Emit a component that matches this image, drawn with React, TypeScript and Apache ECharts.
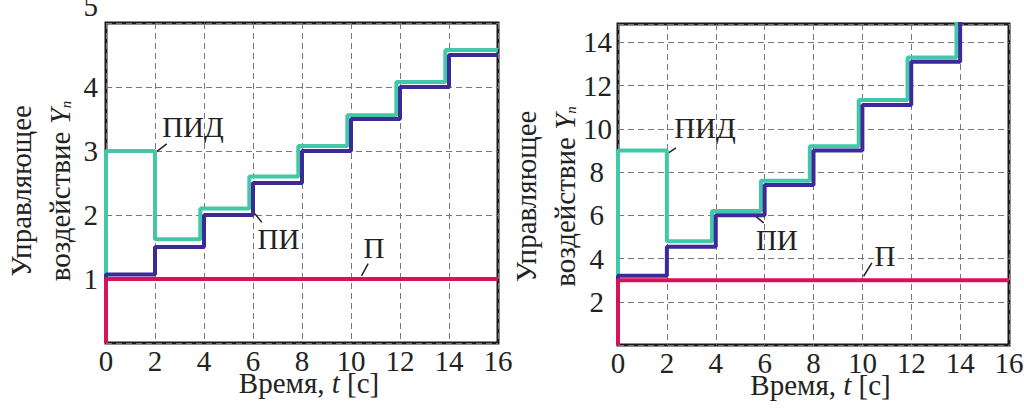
import React, { useEffect, useRef } from "react";
import * as echarts from "echarts";

// ---- axes ----
const X_MIN = 0;
const X_MAX = 16;
const X_INTERVAL = 2;
const LEFT_Y_MAX = 5;
const LEFT_Y_INTERVAL = 1;
const RIGHT_Y_MAX = 14.85;
const RIGHT_Y_INTERVAL = 2;

// ---- left chart data (step boundaries and levels) ----
const leftPTimes = [0, 16];
const leftPLevels = [1];
const leftPStart = 0;

const leftPITimes = [0, 2, 4, 6, 8, 10, 12, 14, 16];
const leftPILevels = [1.07, 1.5, 2, 2.5, 3, 3.5, 4, 4.5];
const leftPIStart = 1;

const leftPIDTimes = [0, 2, 3.85, 5.85, 7.85, 9.85, 11.85, 13.85, 16];
const leftPIDLevels = [3, 1.62, 2.1, 2.6, 3.08, 3.56, 4.08, 4.58];
const leftPIDStart = 1;

// ---- right chart data ----
const rightPTimes = [0, 16];
const rightPLevels = [3];
const rightPStart = 0;

const rightPITimes = [0, 2, 4, 6, 8, 10, 12, 14, 16];
const rightPILevels = [3.2, 4.55, 6.0, 7.4, 9.0, 11.1, 13.1, 16.5];
const rightPIStart = 3;

const rightPIDTimes = [0, 2, 3.85, 5.85, 7.85, 9.85, 11.85, 13.85, 16];
const rightPIDLevels = [9, 4.8, 6.2, 7.6, 9.2, 11.33, 13.3, 16.5];
const rightPIDStart = 3;

// ---- annotations ----
const leftLabels = ["ПИД", "ПИ", "П"];
const leftLabelPos = [[3.55, 3.375], [7.04, 1.63], [10.94, 1.49]];
const leftLeaders = [[2.07, 2.99, 2.48, 3.11], [6.08, 2.02, 6.36, 1.885], [10.43, 1.05, 10.7, 1.24]];
const rightLabels = ["ПИД", "ПИ", "П"];
const rightLabelPos = [[3.56, 10.06], [6.5, 4.88], [10.92, 4.11]];
const rightLeaders = [[2.07, 8.89, 2.37, 9.12], [5.55, 6.03, 5.96, 5.65], [10.05, 3.18, 10.39, 3.8]];

const COLOR_P = "#d4145a";
const COLOR_PI = "#3b2a98";
const COLOR_PID = "#42c7a8";
const FONT = "Liberation Serif";
const FS = 29;
const TEXT_COLOR = "#222";

function steps(times: number[], levels: number[], start: number) {
  const pts: number[][] = [[times[0], start]];
  levels.forEach((v, i) => {
    pts.push([times[i], v], [times[i + 1], v]);
  });
  return pts;
}

function lineSeries(data: number[][], color: string, idx: number) {
  return {
    type: "line",
    xAxisIndex: idx,
    yAxisIndex: idx,
    data,
    symbol: "none",
    showSymbol: false,
    silent: true,
    lineStyle: { width: 4, color },
    itemStyle: { color },
  };
}

const xName = "{n|Время, }{i|t}{n| [с]}";
const yName = "{a|Управляющее}\n{a|воздействие }{i|Y}{s|n}";

function xAxis(idx: number) {
  return {
    type: "value",
    gridIndex: idx,
    min: X_MIN,
    max: X_MAX,
    interval: X_INTERVAL,
    axisLine: { show: false },
    axisTick: { show: false },
    axisLabel: { fontFamily: FONT, fontSize: FS, color: TEXT_COLOR, margin: 3 },
    splitLine: { show: true, lineStyle: { type: [6, 4], color: "#777", width: 1 } },
    name: xName,
    nameLocation: "middle",
    nameGap: 25,
    nameMoveOverlap: false,
    nameTextStyle: {
      fontFamily: FONT,
      fontSize: FS,
      padding: [0, 0, 0, 14],
      rich: {
        n: { fontFamily: FONT, fontSize: FS, color: TEXT_COLOR },
        i: { fontFamily: FONT, fontSize: FS, color: TEXT_COLOR, fontStyle: "italic" },
      },
    },
  };
}

function yAxis(idx: number, max: number, interval: number, labelOpts: any, gap: number, pad: number) {
  return {
    type: "value",
    gridIndex: idx,
    min: 0,
    max,
    interval,
    axisLine: { show: false },
    axisTick: { show: false },
    axisLabel: { fontFamily: FONT, fontSize: FS, color: TEXT_COLOR, showMinLabel: false, ...labelOpts },
    splitLine: { show: true, lineStyle: { type: [6, 4], color: "#777", width: 1 } },
    name: yName,
    nameLocation: "middle",
    nameRotate: 90,
    nameGap: gap,
    nameMoveOverlap: false,
    nameTextStyle: {
      fontFamily: FONT,
      fontSize: FS,
      padding: [0, pad, 0, 0],
      rich: {
        a: { fontFamily: FONT, fontSize: FS, color: TEXT_COLOR, lineHeight: 39 },
        i: { fontFamily: FONT, fontSize: FS, color: TEXT_COLOR, fontStyle: "italic", lineHeight: 39 },
        s: { fontFamily: FONT, fontSize: 15, color: TEXT_COLOR, fontStyle: "italic", verticalAlign: "bottom", lineHeight: 39, padding: [0, 0, 6, 0] },
      },
    },
  };
}

export default function App() {
  const ref = useRef<HTMLDivElement>(null);
  useEffect(() => {
    if (!ref.current) return;
    const chart = echarts.init(ref.current, undefined, { renderer: "svg" });
    const option: any = {
      animation: false,
      backgroundColor: "#fff",
      textStyle: { fontFamily: FONT },
      grid: [
        { left: 106, top: 23, width: 392, height: 320, show: true, borderColor: "#1a1a1a", borderWidth: 3, backgroundColor: "transparent", outerBoundsMode: "none", containLabel: false },
        { left: 618, top: 24, width: 391, height: 321, show: true, borderColor: "#1a1a1a", borderWidth: 3, backgroundColor: "transparent", outerBoundsMode: "none", containLabel: false },
      ],
      xAxis: [xAxis(0), xAxis(1)],
      yAxis: [
        yAxis(
          0,
          LEFT_Y_MAX,
          LEFT_Y_INTERVAL,
          {
            margin: 8,
            formatter: (v: number) => (v === LEFT_Y_MAX ? "{top|" + v + "}" : String(v)),
            rich: { top: { fontFamily: FONT, fontSize: FS, color: TEXT_COLOR, padding: [0, 0, 34, 0] } },
          },
          27,
          16
        ),
        yAxis(
          1,
          RIGHT_Y_MAX,
          RIGHT_Y_INTERVAL,
          {
            margin: 6,
            formatter: (v: number) =>
              v > 0 && Math.abs(v % 2) < 1e-9 ? (v < 10 ? "{d|" + v + "}" : String(v)) : "",
            rich: { d: { fontFamily: FONT, fontSize: FS, color: TEXT_COLOR, padding: [0, 8, 0, 0] } },
          },
          34,
          24
        ),
      ],
      series: [
        lineSeries(steps(leftPIDTimes, leftPIDLevels, leftPIDStart), COLOR_PID, 0),
        lineSeries(steps(leftPITimes, leftPILevels, leftPIStart), COLOR_PI, 0),
        lineSeries(steps(leftPTimes, leftPLevels, leftPStart), COLOR_P, 0),
        lineSeries(steps(rightPIDTimes, rightPIDLevels, rightPIDStart), COLOR_PID, 1),
        lineSeries(steps(rightPITimes, rightPILevels, rightPIStart), COLOR_PI, 1),
        lineSeries(steps(rightPTimes, rightPLevels, rightPStart), COLOR_P, 1),
      ],
    };
    chart.setOption(option);

    const graphics: any[] = [];
    const addAnn = (gridIndex: number, labels: string[], pos: number[][], leaders: number[][]) => {
      labels.forEach((txt, k) => {
        const c = chart.convertToPixel({ gridIndex } as any, pos[k]) as number[];
        graphics.push({
          type: "text",
          x: c[0],
          y: c[1],
          silent: true,
          style: { text: txt, fontFamily: FONT, fontSize: FS, fill: TEXT_COLOR, align: "center", verticalAlign: "middle" },
        });
        const l = leaders[k];
        const p1 = chart.convertToPixel({ gridIndex } as any, [l[0], l[1]]) as number[];
        const p2 = chart.convertToPixel({ gridIndex } as any, [l[2], l[3]]) as number[];
        graphics.push({
          type: "line",
          silent: true,
          shape: { x1: p1[0], y1: p1[1], x2: p2[0], y2: p2[1] },
          style: { stroke: "#222", lineWidth: 1.5 },
        });
      });
    };
    addAnn(0, leftLabels, leftLabelPos, leftLeaders);
    addAnn(1, rightLabels, rightLabelPos, rightLeaders);
    chart.setOption({ graphic: graphics });

    return () => chart.dispose();
  }, []);
  return (
    <div
      ref={ref}
      style={{ position: "fixed", left: 0, top: 0, width: 1024, height: 410, background: "#fff" }}
    />
  );
}
